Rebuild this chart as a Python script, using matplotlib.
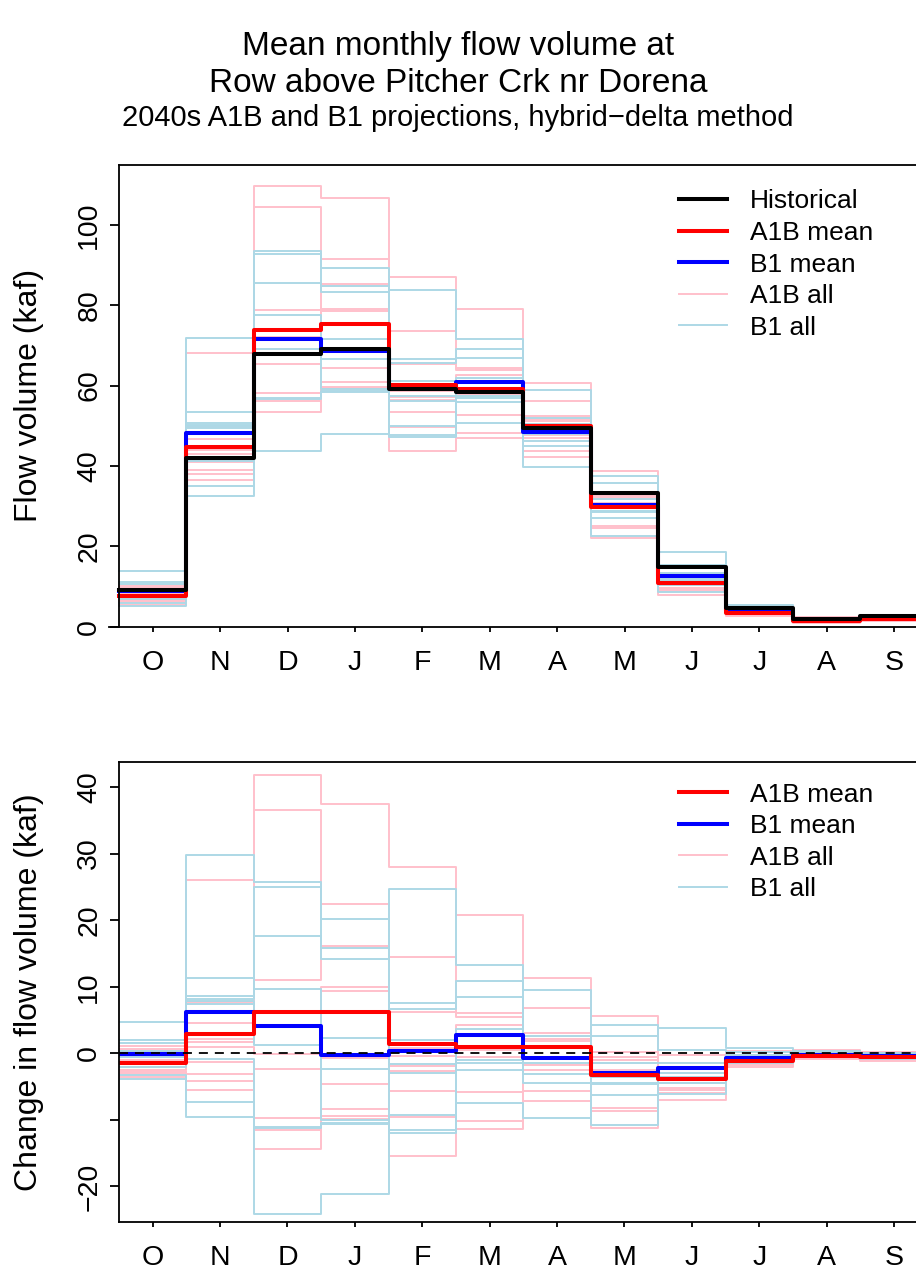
import numpy as np
import matplotlib
matplotlib.use("Agg")
import matplotlib.pyplot as plt
import matplotlib.transforms as mtransforms

plt.rcParams['font.family'] = ['Liberation Sans', 'DejaVu Sans']
plt.rcParams['lines.scale_dashes'] = False

months = ['O', 'N', 'D', 'J', 'F', 'M', 'A', 'M', 'J', 'J', 'A', 'S']

# top panel: flow volumes (kaf)
historical = [9.1, 42.1, 67.8, 69.1, 59.1, 58.3, 49.4, 33.2, 14.8, 4.6, 1.8, 2.7]
a1b_mean = [7.7, 44.8, 73.8, 75.4, 60.2, 59.2, 50.0, 29.9, 10.9, 3.5, 1.5, 2.0]
b1_mean = [8.9, 48.1, 71.7, 68.7, 59.5, 61.0, 48.5, 30.2, 12.5, 4.0, 1.6, 2.3]

a1b_all = [
    [9.7, 49.8, 109.6, 106.6, 87.1, 79.1, 60.7, 38.8, 14.6, 5.0, 2.3, 2.9],
    [10.2, 68.1, 104.4, 91.5, 73.6, 64.3, 56.2, 33.5, 13.3, 4.3, 1.8, 2.7],
    [8.6, 46.6, 78.8, 85.2, 65.3, 63.8, 52.5, 32.7, 12.8, 4.0, 1.8, 2.5],
    [8.1, 44.3, 73.8, 79.1, 59.9, 62.6, 51.5, 32.2, 11.3, 3.7, 1.6, 2.3],
    [7.1, 43.9, 72.1, 78.5, 58.7, 58.8, 51.2, 30.7, 10.8, 3.5, 1.5, 2.2],
    [7.6, 43.1, 67.7, 68.4, 57.2, 57.8, 50.4, 30.5, 10.3, 3.3, 1.4, 2.1],
    [6.6, 40.9, 65.4, 64.5, 56.5, 57.8, 47.7, 29.7, 9.6, 3.1, 1.3, 2.0],
    [6.5, 39.0, 58.2, 60.8, 53.5, 52.6, 46.9, 25.0, 9.3, 3.0, 1.2, 1.9],
    [6.1, 38.0, 56.2, 59.7, 49.6, 48.2, 43.8, 24.6, 8.8, 2.8, 1.1, 1.7],
    [5.5, 36.6, 53.4, 59.3, 43.7, 46.9, 42.3, 22.0, 7.8, 2.6, 1.0, 1.5],
]
b1_all = [
    [13.9, 71.9, 93.6, 89.2, 66.7, 69.2, 52.0, 35.8, 18.7, 5.4, 2.1, 2.8],
    [11.1, 53.5, 92.8, 84.9, 65.7, 66.8, 50.4, 37.5, 15.3, 4.8, 1.9, 2.7],
    [10.7, 50.7, 85.5, 83.3, 61.1, 61.9, 48.9, 31.7, 13.3, 4.3, 1.8, 2.5],
    [9.4, 50.3, 77.5, 71.5, 57.5, 59.3, 48.8, 30.5, 12.8, 4.0, 1.7, 2.4],
    [8.9, 49.9, 71.8, 66.7, 56.1, 57.3, 47.9, 29.7, 11.8, 3.8, 1.6, 2.3],
    [8.6, 49.5, 69.0, 59.1, 49.9, 56.8, 46.3, 28.7, 11.3, 3.7, 1.5, 2.2],
    [7.0, 41.2, 56.8, 58.7, 47.6, 55.8, 45.0, 28.6, 10.8, 3.5, 1.4, 2.1],
    [5.9, 34.9, 56.6, 58.5, 47.1, 50.8, 39.7, 27.0, 10.3, 3.3, 1.3, 2.0],
    [5.2, 32.5, 43.7, 48.0, 83.9, 71.6, 58.9, 22.5, 8.7, 3.1, 1.2, 1.8],
]

# bottom panel: change in flow volume (kaf)
a1b_mean_chg = [-1.5, 2.85, 6.15, 6.25, 1.4, 1.0, 0.9, -3.25, -3.9, -1.15, -0.35, -0.55]
b1_mean_chg = [-0.15, 6.15, 4.1, -0.25, 0.4, 2.75, -0.75, -3.0, -2.25, -0.7, -0.2, -0.4]

a1b_all_chg = [
    [0.6, 7.7, 41.75, 37.5, 28.0, 20.75, 11.25, 5.6, -0.25, 0.4, 0.5, 0.2],
    [1.1, 26.0, 36.6, 22.4, 14.5, 6.0, 6.75, 0.25, -1.5, -0.3, 0.0, 0.0],
    [-0.5, 4.5, 11.0, 16.1, 6.15, 5.5, 3.1, -0.5, -2.0, -0.6, 0.0, -0.2],
    [-1.0, 2.2, 6.0, 10.0, 0.8, 4.25, 2.1, -1.0, -3.5, -0.9, -0.2, -0.4],
    [-2.0, 1.75, 4.3, 9.35, -0.4, 0.5, 1.8, -2.5, -4.0, -1.1, -0.3, -0.5],
    [-1.5, 1.0, -0.1, -0.7, -1.9, -0.5, 1.0, -2.75, -4.5, -1.3, -0.4, -0.6],
    [-2.5, -1.25, -2.4, -4.6, -2.6, -0.5, -1.75, -3.5, -5.25, -1.5, -0.5, -0.7],
    [-2.6, -3.1, -9.65, -8.35, -5.6, -5.75, -2.5, -8.25, -5.5, -1.6, -0.6, -0.8],
    [-3.0, -4.1, -11.6, -9.4, -9.5, -10.1, -5.65, -8.6, -6.0, -1.8, -0.7, -1.0],
    [-3.6, -5.5, -14.4, -9.8, -15.4, -11.4, -7.1, -11.25, -7.0, -2.0, -0.8, -1.2],
]
b1_all_chg = [
    [4.75, 29.75, 25.75, 20.1, 7.6, 10.9, 2.6, 2.6, 3.85, 0.75, 0.3, 0.1],
    [2.0, 11.35, 25.0, 15.75, 6.6, 8.5, 1.0, 4.25, 0.5, 0.2, 0.1, 0.0],
    [1.6, 8.6, 17.65, 14.15, 2.0, 3.6, -0.5, -1.5, -1.5, -0.3, 0.0, -0.2],
    [0.3, 8.2, 9.65, 2.35, -1.6, 1.0, -0.6, -2.75, -2.0, -0.6, -0.1, -0.3],
    [-0.25, 7.8, 4.0, -2.4, -3.0, -1.0, -1.5, -3.5, -3.0, -0.8, -0.2, -0.4],
    [-0.5, 7.4, 1.2, -10.0, -9.25, -1.5, -3.1, -4.5, -3.5, -0.9, -0.3, -0.5],
    [-2.1, -0.9, -11.0, -10.4, -11.5, -2.5, -4.4, -4.6, -4.0, -1.1, -0.4, -0.6],
    [-3.25, -7.25, -11.25, -10.65, -12.0, -7.5, -9.75, -6.25, -4.5, -1.3, -0.5, -0.7],
    [-3.9, -9.6, -24.1, -21.1, 24.75, 13.25, 9.5, -10.75, -6.15, -1.5, -0.6, -0.9],
]

edges = np.arange(0.5, 13.0, 1.0)


def stairs(ax, vals, **kw):
    v = np.asarray(vals, dtype=float)
    return ax.step(edges, np.append(v, v[-1]), where='post', **kw)[0]


W, H = 916, 1275
fig = plt.figure(figsize=(W / 100, H / 100), dpi=100)

PINK = '#FFC0CB'
LBLUE = '#ADD8E6'
thin = 1.4
thick = 2.9

# ---------------- top panel ----------------
ax1 = fig.add_axes([108.9 / W, 1 - 626.7 / H, 818.9 / W, (626.7 - 165) / H])
for row in a1b_all:
    l_pink = stairs(ax1, row, color=PINK, lw=thin)
for row in b1_all:
    l_lb = stairs(ax1, row, color=LBLUE, lw=thin)
l_b1 = stairs(ax1, b1_mean, color='blue', lw=thick)
l_a1b = stairs(ax1, a1b_mean, color='red', lw=thick)
l_hist = stairs(ax1, historical, color='black', lw=thick)

ax1.set_xlim(0.35, 12.5)
ax1.set_ylim(0, 114.9)
ax1.spines['left'].set_position(('data', 0.5))
ax1.spines['top'].set_bounds(0.5, 12.5)
ax1.set_yticks([0, 20, 40, 60, 80, 100])
ax1.set_ylabel('Flow volume (kaf)', fontsize=23)
ax1.yaxis.set_label_coords(44 / W, 0.5,
                           transform=mtransforms.blended_transform_factory(fig.transFigure, ax1.transAxes))
ax1.legend([l_hist, l_a1b, l_b1, l_pink, l_lb],
           ['Historical', 'A1B mean', 'B1 mean', 'A1B all', 'B1 all'],
           loc='upper left', bbox_to_anchor=(679 / W, 1 - 189.5 / H), bbox_transform=fig.transFigure,
           frameon=False, fontsize=19, handlelength=1.82, handletextpad=0.87,
           labelspacing=0.285, borderpad=0, borderaxespad=0)

# ---------------- bottom panel ----------------
ax2 = fig.add_axes([119 / W, 1 - 1221.7 / H, 808.8 / W, 460 / H])
for row in a1b_all_chg:
    m_pink = stairs(ax2, row, color=PINK, lw=thin)
for row in b1_all_chg:
    m_lb = stairs(ax2, row, color=LBLUE, lw=thin)
m_b1 = stairs(ax2, b1_mean_chg, color='blue', lw=thick)
m_a1b = stairs(ax2, a1b_mean_chg, color='red', lw=thick)
ax2.axhline(0, color='black', lw=1.3, linestyle=(0, (6.5, 5)), zorder=5)

ax2.set_xlim(0.5, 12.5)
ax2.set_ylim(-25.3, 43.8)
ax2.set_yticks([-20, -10, 0, 10, 20, 30, 40])
ax2.set_yticklabels(['\u221220', '', '0', '10', '20', '30', '40'])
ax2.set_ylabel('Change in flow volume (kaf)', fontsize=23)
ax2.yaxis.set_label_coords(44 / W, 0.5,
                           transform=mtransforms.blended_transform_factory(fig.transFigure, ax2.transAxes))
ax2.legend([m_a1b, m_b1, m_pink, m_lb],
           ['A1B mean', 'B1 mean', 'A1B all', 'B1 all'],
           loc='upper left', bbox_to_anchor=(679 / W, 1 - 782.5 / H), bbox_transform=fig.transFigure,
           frameon=False, fontsize=19, handlelength=1.82, handletextpad=0.87,
           labelspacing=0.285, borderpad=0, borderaxespad=0)

for ax in (ax1, ax2):
    ax.set_xticks(range(1, 13))
    ax.set_xticklabels(months)
    for s in ax.spines.values():
        s.set_linewidth(1.3)
    ax.tick_params(axis='x', length=3.6, width=1.3, pad=13, labelsize=20.5)
    ax.tick_params(axis='y', length=6.5, width=1.3, pad=5.5, labelsize=20.5, labelrotation=90)
    for lab in ax.get_yticklabels():
        lab.set_va('center')

fig.text(0.5, 1 - 47 / H, 'Mean monthly flow volume at', ha='center', va='center', fontsize=24)
fig.text(0.5, 1 - 84 / H, 'Row above Pitcher Crk nr Dorena', ha='center', va='center', fontsize=24)
fig.text(0.5, 1 - 118 / H, '2040s A1B and B1 projections, hybrid\u2212delta method',
         ha='center', va='center', fontsize=21)

fig.savefig('out.png', dpi=100)
